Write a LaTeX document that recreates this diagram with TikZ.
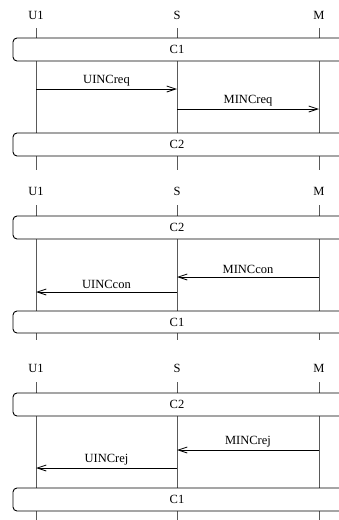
\documentclass[tikz,border=0pt]{standalone}
\usepackage{fontspec}
\setmainfont{Liberation Serif}
\usetikzlibrary{arrows.meta}
\begin{document}
\begin{tikzpicture}[x=1pt,y=-1pt,
  every node/.style={font=\fontsize{12.5}{14}\selectfont, inner sep=1pt},
  life/.style={draw=black!65, line width=0.9pt},
  msg/.style={draw=black, line width=0.8pt, -{Straight Barb[length=9pt,width=6pt,line width=0.8pt]}},
  cbox/.style={draw=black, line width=0.9pt, rounded corners=4pt, fill=white},
  lbl/.style={above=1.5pt, midway}]
\useasboundingbox (0,0) rectangle (339,520);
\clip (0,0) rectangle (339,520);
% ---------- panel 1 ----------
\node (u1a) at (36,15) {U1};
\node (sa) at (177,15) {S};
\node (ma) at (319,15) {M};
\coordinate (u1aend) at (36,170);
\coordinate (saend) at (177,170);
\coordinate (maend) at (319,170);
\draw[life] (36,28) -- (u1aend);
\draw[life] (177,28) -- (saend);
\draw[life] (319,28) -- (maend);
\draw[cbox] (13,38) rectangle (360,61);
\node (c1a) at (177,49.5) {C1};
\coordinate (p1) at (36,89); \coordinate (p2) at (177,89);
\draw[msg] (p1) -- node[lbl] (m1) {UINCreq} (p2);
\coordinate (p3) at (177,109); \coordinate (p4) at (319,109);
\draw[msg] (p3) -- node[lbl] (m2) {MINCreq} (p4);
\draw[cbox] (13,133) rectangle (360,156);
\node (c2a) at (177,144.5) {C2};
% ---------- panel 2 ----------
\node (u1b) at (36,191) {U1};
\node (sb) at (177,191) {S};
\node (mb) at (319,191) {M};
\draw[life] (36,205) -- (36,340);
\draw[life] (177,205) -- (177,340);
\draw[life] (319,205) -- (319,340);
\draw[cbox] (13,216) rectangle (360,239);
\node (c2b) at (177,227.5) {C2};
\coordinate (q1) at (319,277); \coordinate (q2) at (177,277);
\draw[msg] (q1) -- node[lbl] (m3) {MINCcon} (q2);
\coordinate (q3) at (177,292); \coordinate (q4) at (36,292);
\draw[msg] (q3) -- node[lbl] (m4) {UINCcon} (q4);
\draw[cbox] (13,311) rectangle (360,333);
\node (c1b) at (177,322) {C1};
% ---------- panel 3 ----------
\node (u1c) at (36,368) {U1};
\node (sc) at (177,368) {S};
\node (mc) at (319,368) {M};
\draw[life] (36,382) -- (36,520);
\draw[life] (177,382) -- (177,520);
\draw[life] (319,382) -- (319,520);
\draw[cbox] (13,393) rectangle (360,416);
\node (c2c) at (177,404.5) {C2};
\coordinate (r1) at (319,450); \coordinate (r2) at (177,450);
\draw[msg] (r1) -- node[lbl] (m5) {MINCrej} (r2);
\coordinate (r3) at (177,468); \coordinate (r4) at (36,468);
\draw[msg] (r3) -- node[lbl] (m6) {UINCrej} (r4);
\draw[cbox] (13,488) rectangle (360,511);
\node (c1c) at (177,499.5) {C1};
\end{tikzpicture}
\end{document}
